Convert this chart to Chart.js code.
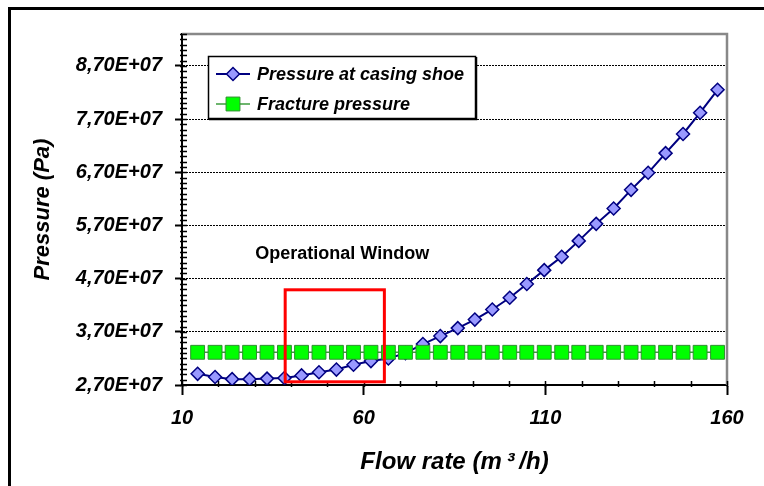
<!DOCTYPE html>
<html>
<head>
<meta charset="utf-8">
<script src="https://cdn.jsdelivr.net/npm/chart.js@4/dist/chart.umd.min.js"></script>
<style>
  html, body { margin: 0; padding: 0; background: #fff; }
</style>
</head>
<body>
<canvas id="chart" width="764" height="486"></canvas>
<script>
// flow rate, m3/h
const flowRate = [14.3, 19.1, 23.8, 28.6, 33.4, 38.2, 42.9, 47.7, 52.5, 57.2, 62.0,
  66.8, 71.5, 76.3, 81.1, 85.9, 90.6, 95.4, 100.2, 104.9, 109.7, 114.5, 119.2,
  124.0, 128.8, 133.6, 138.3, 143.1, 147.9, 152.6, 157.4];

// pressures, Pa
const shoePressure = [2.91e7, 2.85e7, 2.81e7, 2.81e7, 2.82e7, 2.83e7, 2.88e7, 2.94e7,
  2.99e7, 3.08e7, 3.15e7, 3.20e7, 3.30e7, 3.47e7, 3.62e7, 3.77e7, 3.93e7, 4.12e7,
  4.34e7, 4.60e7, 4.86e7, 5.11e7, 5.41e7, 5.73e7, 6.02e7, 6.37e7, 6.69e7, 7.06e7,
  7.42e7, 7.82e7, 8.25e7];
const fracturePressure = [3.315e7, 3.315e7, 3.315e7, 3.315e7, 3.315e7, 3.315e7, 3.315e7,
  3.315e7, 3.315e7, 3.315e7, 3.315e7, 3.315e7, 3.315e7, 3.315e7, 3.315e7, 3.315e7,
  3.315e7, 3.315e7, 3.315e7, 3.315e7, 3.315e7, 3.315e7, 3.315e7, 3.315e7, 3.315e7,
  3.315e7, 3.315e7, 3.315e7, 3.315e7, 3.315e7, 3.315e7];

const seriesNames = ['Pressure at casing shoe', 'Fracture pressure'];

const yTicks = [2.7e7, 3.7e7, 4.7e7, 5.7e7, 6.7e7, 7.7e7, 8.7e7];
const yTickLabels = ['2,70E+07', '3,70E+07', '4,70E+07', '5,70E+07', '6,70E+07', '7,70E+07', '8,70E+07'];
const xTicks = [10, 60, 110, 160];
const xTickLabels = ['10', '60', '110', '160'];

// operational window box (data units)
const windowBox = { x0: 38.4, x1: 65.7, y0: 2.76e7, y1: 4.49e7 };
const windowLabel = { text: 'Operational Window', x: 54.1, y: 5.16e7 };

const FONT = '"Liberation Sans", Arial, sans-serif';

const shoeStyle = { line: '#000080', fill: '#9999ff', point: 'rectRot', r: 6.5 };
const fracStyle = { line: '#3c9c3c', fill: '#00ff00', border: '#2f8f2f', point: 'rect', r: 9.8 };

function marker(ctx, type, x, y, r, fill, stroke, lw) {
  ctx.beginPath();
  if (type === 'rectRot') {
    ctx.moveTo(x - r, y); ctx.lineTo(x, y - r); ctx.lineTo(x + r, y); ctx.lineTo(x, y + r);
  } else {
    const s = r * Math.SQRT1_2;
    ctx.rect(x - s, y - s, 2 * s, 2 * s);
  }
  ctx.closePath();
  ctx.fillStyle = fill; ctx.fill();
  ctx.lineWidth = lw; ctx.strokeStyle = stroke; ctx.stroke();
}

const decor = {
  id: 'decor',
  beforeDraw(chart) {
    const ctx = chart.ctx;
    ctx.save();
    ctx.fillStyle = '#fff';
    ctx.fillRect(0, 0, chart.width, chart.height);
    ctx.strokeStyle = '#000';
    ctx.lineWidth = 3;
    ctx.strokeRect(9.5, 8.5, chart.width + 20, chart.height + 20);
    ctx.restore();
  },
  beforeDatasetsDraw(chart) {
    const ctx = chart.ctx, a = chart.chartArea;
    const xs = chart.scales.x, ys = chart.scales.y;
    ctx.save();
    // gray frame top / right
    ctx.strokeStyle = '#888';
    ctx.lineWidth = 2.5;
    ctx.beginPath();
    ctx.moveTo(a.left, a.top);
    ctx.lineTo(a.right, a.top);
    ctx.lineTo(a.right, a.bottom);
    ctx.stroke();
    // minor ticks
    ctx.strokeStyle = '#000';
    ctx.lineWidth = 1.5;
    ctx.beginPath();
    for (let v = ys.min; v <= ys.max + 1; v += 1e6) {
      const y = Math.round(ys.getPixelForValue(v)) + 0.5;
      ctx.moveTo(a.left - 2, y); ctx.lineTo(a.left + 5, y);
    }
    for (let v = xs.min; v <= xs.max; v += 10) {
      const x = Math.round(xs.getPixelForValue(v)) + 0.5;
      ctx.moveTo(x, a.bottom - 4); ctx.lineTo(x, a.bottom + 2);
    }
    ctx.stroke();
    ctx.restore();
  },
  afterDatasetsDraw(chart) {
    const ctx = chart.ctx;
    const xs = chart.scales.x, ys = chart.scales.y;
    ctx.save();
    // red box
    const bx0 = xs.getPixelForValue(windowBox.x0), bx1 = xs.getPixelForValue(windowBox.x1);
    const by0 = ys.getPixelForValue(windowBox.y0), by1 = ys.getPixelForValue(windowBox.y1);
    ctx.strokeStyle = '#ff0000';
    ctx.lineWidth = 3;
    ctx.strokeRect(bx0, by1, bx1 - bx0, by0 - by1);
    // label
    ctx.fillStyle = '#000';
    ctx.font = 'bold 18px ' + FONT;
    ctx.textAlign = 'center';
    ctx.textBaseline = 'middle';
    ctx.fillText(windowLabel.text, xs.getPixelForValue(windowLabel.x), ys.getPixelForValue(windowLabel.y));

    // legend
    const lx = 208, ly = 56, lw = 267, lh = 62;
    ctx.fillStyle = '#fff';
    ctx.fillRect(lx, ly, lw, lh);
    ctx.strokeStyle = '#000';
    ctx.lineWidth = 1.5;
    ctx.strokeRect(lx + 0.5, ly + 0.5, lw, lh);
    ctx.beginPath();
    ctx.moveTo(lx + lw + 1.5, ly + 1); ctx.lineTo(lx + lw + 1.5, ly + lh + 1.5); ctx.lineTo(lx + 1, ly + lh + 1.5);
    ctx.stroke();

    const rows = [74, 104];
    ctx.strokeStyle = shoeStyle.line; ctx.lineWidth = 2;
    ctx.beginPath(); ctx.moveTo(216, rows[0]); ctx.lineTo(250, rows[0]); ctx.stroke();
    marker(ctx, shoeStyle.point, 233, rows[0], shoeStyle.r, shoeStyle.fill, shoeStyle.line, 1.5);
    ctx.strokeStyle = fracStyle.line; ctx.lineWidth = 1.5;
    ctx.beginPath(); ctx.moveTo(216, rows[1]); ctx.lineTo(250, rows[1]); ctx.stroke();
    marker(ctx, fracStyle.point, 233, rows[1], fracStyle.r, fracStyle.fill, fracStyle.border, 1);

    ctx.fillStyle = '#000';
    ctx.font = 'italic bold 18px ' + FONT;
    ctx.textAlign = 'left';
    ctx.textBaseline = 'middle';
    ctx.fillText(seriesNames[0], 257, rows[0] + 1);
    ctx.fillText(seriesNames[1], 257, rows[1] + 1);
    ctx.restore();
  }
};

const tickFont = { family: FONT, size: 20, weight: 'bold', style: 'italic' };

new Chart(document.getElementById('chart'), {
  type: 'line',
  data: {
    datasets: [
      {
        label: seriesNames[0],
        data: flowRate.map((x, i) => ({ x: x, y: shoePressure[i] })),
        borderColor: shoeStyle.line,
        borderWidth: 2,
        pointStyle: shoeStyle.point,
        pointRadius: shoeStyle.r,
        pointBackgroundColor: shoeStyle.fill,
        pointBorderColor: shoeStyle.line,
        pointBorderWidth: 1.5,
        order: 2
      },
      {
        label: seriesNames[1],
        data: flowRate.map((x, i) => ({ x: x, y: fracturePressure[i] })),
        borderColor: fracStyle.line,
        borderWidth: 1.5,
        pointStyle: fracStyle.point,
        pointRadius: fracStyle.r,
        pointBackgroundColor: fracStyle.fill,
        pointBorderColor: fracStyle.border,
        pointBorderWidth: 1,
        order: 1
      }
    ]
  },
  options: {
    responsive: false,
    animation: false,
    layout: { padding: { left: 10, top: 34, right: 37, bottom: 0 } },
    plugins: {
      legend: { display: false },
      tooltip: { enabled: false }
    },
    scales: {
      x: {
        type: 'linear',
        min: 10,
        max: 160,
        afterBuildTicks: (axis) => { axis.ticks = xTicks.map(v => ({ value: v })); },
        afterFit: (scale) => { scale.height = 101; },
        ticks: {
          autoSkip: false,
          maxRotation: 0,
          padding: 11,
          color: '#000',
          font: tickFont,
          callback: (v) => xTickLabels[xTicks.indexOf(v)]
        },
        grid: {
          drawOnChartArea: false,
          tickLength: 10,
          tickWidth: 2,
          tickColor: '#000'
        },
        border: { color: '#000', width: 2 },
        title: {
          display: true,
          text: 'Flow rate (m\u2009³\u2009/h)',
          color: '#000',
          font: { family: FONT, size: 24, weight: 'bold', style: 'italic' },
          padding: { top: 0, bottom: 9 }
        }
      },
      y: {
        min: 2.7e7,
        max: 9.3e7,
        afterBuildTicks: (axis) => { axis.ticks = yTicks.map(v => ({ value: v })); },
        afterFit: (scale) => { scale.width = 172; },
        ticks: {
          autoSkip: false,
          padding: 13,
          color: '#000',
          font: tickFont,
          callback: (v) => yTickLabels[yTicks.indexOf(v)]
        },
        grid: {
          color: '#000',
          lineWidth: 1,
          tickLength: 7,
          tickWidth: 2,
          tickColor: '#000'
        },
        border: { color: '#000', width: 2, dash: [2, 1] },
        title: {
          display: true,
          text: 'Pressure (Pa)',
          color: '#000',
          font: { family: FONT, size: 22, weight: 'bold', style: 'italic' },
          padding: { top: 20, bottom: 0 }
        }
      }
    }
  },
  plugins: [decor]
});
</script>
</body>
</html>
